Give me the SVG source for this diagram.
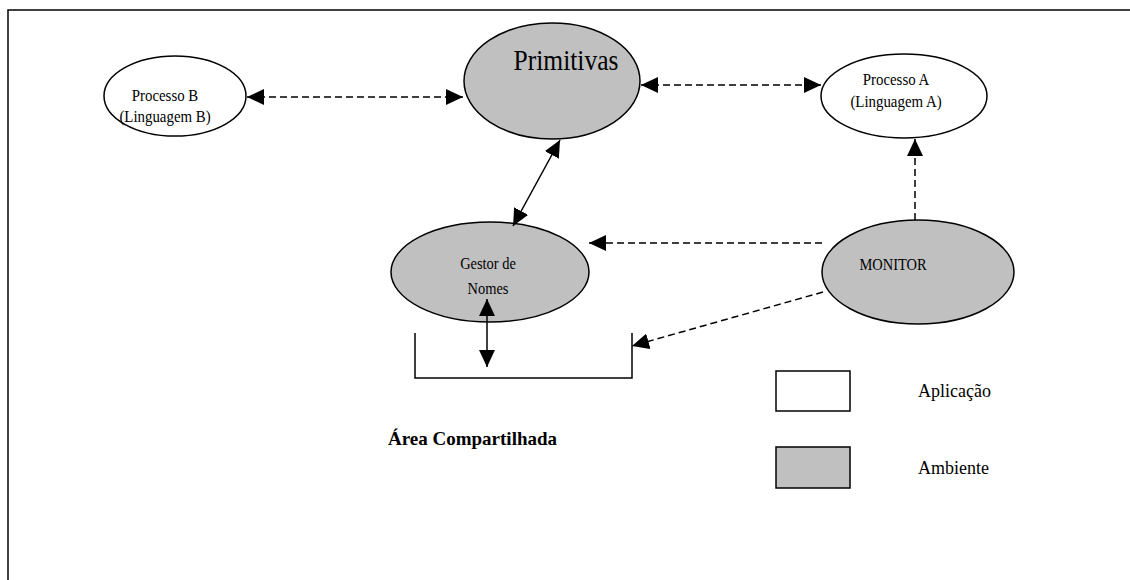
<svg xmlns="http://www.w3.org/2000/svg" width="1130" height="580" viewBox="0 0 1130 580">
<defs>
<marker id="ahb" viewBox="0 0 10 10" refX="10" refY="5" markerWidth="17" markerHeight="16" markerUnits="userSpaceOnUse" orient="auto-start-reverse" preserveAspectRatio="none">
<path d="M0,0 L10,5 L0,10 z" fill="#000"/>
</marker>
</defs>
<style>
.app{fill:#fff;stroke:#000;stroke-width:1.5}
.env{fill:#c0c0c0;stroke:#000;stroke-width:1.5}
.t{font-family:"Liberation Serif",serif;fill:#000;text-anchor:middle}
.l{font-family:"Liberation Serif",serif;fill:#000}
.d{stroke:#000;stroke-width:1.5;stroke-dasharray:7,4;fill:none}
.s{stroke:#000;stroke-width:1.5;fill:none}
</style>
<rect width="1130" height="580" fill="#fff"/>
<path d="M8,580 L8,10 L1130,10" class="s" stroke-width="2"/>
<g id="processoB">
<ellipse cx="175" cy="96" rx="71" ry="40" class="app"/>
<g transform="translate(165,0) scale(0.85,1)">
<text class="t" x="0" y="101" font-size="17.5">Processo B</text>
<text class="t" x="0" y="122" font-size="17.5">(Linguagem B)</text>
</g>
</g>
<g id="primitivas">
<ellipse cx="552" cy="81" rx="88" ry="58" class="env"/>
<text class="t" transform="translate(566,70) scale(0.85,1)" x="0" y="0" font-size="30">Primitivas</text>
</g>
<g id="processoA">
<ellipse cx="904" cy="96" rx="83" ry="42" class="app"/>
<g transform="translate(896,0) scale(0.85,1)">
<text class="t" x="0" y="85" font-size="17.5">Processo A</text>
<text class="t" x="0" y="107" font-size="17.5">(Linguagem A)</text>
</g>
</g>
<g id="gestor">
<ellipse cx="490" cy="272" rx="99" ry="50" class="env"/>
<g transform="translate(488,0) scale(0.85,1)">
<text class="t" x="0" y="269" font-size="17">Gestor de</text>
<text class="t" x="0" y="294" font-size="17">Nomes</text>
</g>
</g>
<g id="monitor">
<ellipse cx="918" cy="272" rx="96" ry="52" class="env"/>
<text class="t" transform="translate(893,270) scale(0.85,1)" x="0" y="0" font-size="17">MONITOR</text>
</g>
<g id="area">
<path d="M415,333 L415,378 L632,378 L632,333" class="s"/>
<text class="l" x="388" y="445" font-weight="bold" font-size="19">Área Compartilhada</text>
</g>
<g id="legenda">
<rect x="776" y="371" width="74" height="40" class="app"/>
<text class="l" x="918" y="397" font-size="18">Aplicação</text>
<rect x="776" y="447" width="74" height="41" class="env"/>
<text class="l" x="918" y="474" font-size="18">Ambiente</text>
</g>
<g id="connectors">
<line x1="247" y1="97" x2="463" y2="97" class="d" marker-start="url(#ahb)" marker-end="url(#ahb)"/>
<line x1="641" y1="85" x2="821" y2="85" class="d" marker-start="url(#ahb)" marker-end="url(#ahb)"/>
<line x1="560" y1="140" x2="513" y2="226" class="s" marker-start="url(#ahb)" marker-end="url(#ahb)"/>
<line x1="915" y1="220" x2="915" y2="139" class="d" marker-end="url(#ahb)"/>
<line x1="822" y1="243" x2="589" y2="243" class="d" marker-end="url(#ahb)"/>
<line x1="823" y1="292" x2="632" y2="346" class="d" marker-end="url(#ahb)"/>
<line x1="487" y1="299" x2="487" y2="367" class="s" marker-start="url(#ahb)" marker-end="url(#ahb)"/>
</g>
</svg>
